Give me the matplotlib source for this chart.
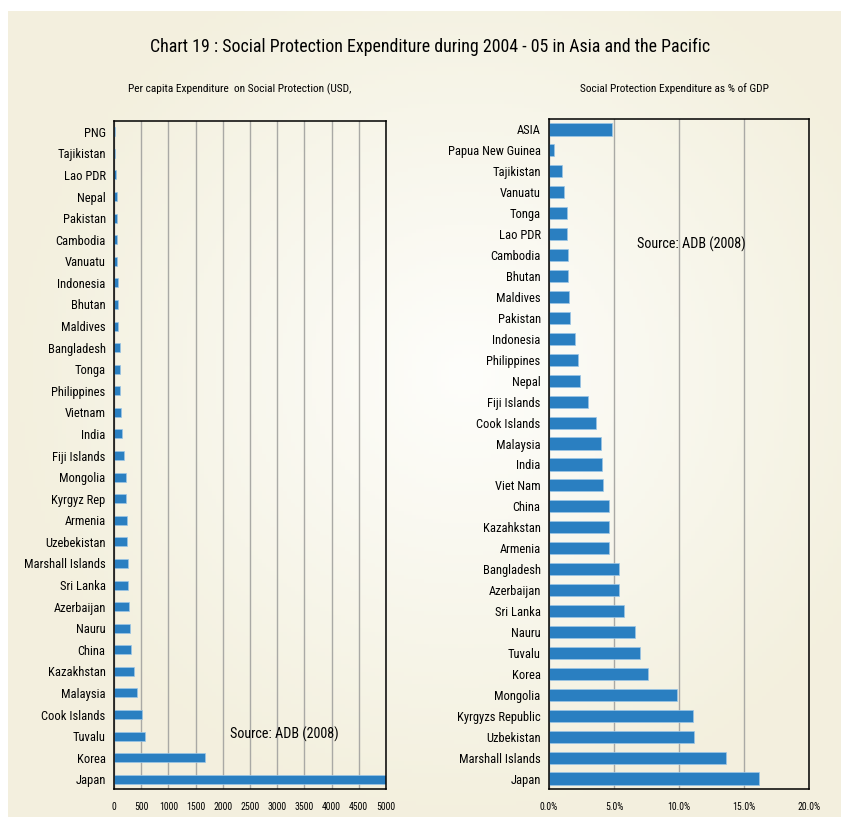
import numpy as np
import matplotlib
matplotlib.use("Agg")
import matplotlib.pyplot as plt

# per capita expenditure (USD), top to bottom
PC_COUNTRIES = ["PNG", "Tajikistan", "Lao PDR", "Nepal", "Pakistan", "Cambodia",
                "Vanuatu", "Indonesia", "Bhutan", "Maldives", "Bangladesh", "Tonga",
                "Philippines", "Vietnam", "India", "Fiji Islands", "Mongolia",
                "Kyrgyz Rep", "Armenia", "Uzebekistan", "Marshall Islands",
                "Sri Lanka", "Azerbaijan", "Nauru", "China", "Kazakhstan",
                "Malaysia", "Cook Islands", "Tuvalu", "Korea", "Japan"]
PC_VALUES = [10, 15, 35, 50, 50, 50, 50, 80, 80, 80, 105, 105, 117, 135, 147, 190,
             215, 215, 233, 233, 258, 258, 270, 300, 313, 369, 424, 510, 577,
             1665, 5000]

# share of GDP (%), top to bottom
GDP_COUNTRIES = ["ASIA", "Papua New Guinea", "Tajikistan", "Vanuatu", "Tonga",
                 "Lao PDR", "Cambodia", "Bhutan", "Maldives", "Pakistan",
                 "Indonesia", "Philippines", "Nepal", "Fiji Islands", "Cook Islands",
                 "Malaysia", "India", "Viet Nam", "China", "Kazahkstan", "Armenia",
                 "Bangladesh", "Azerbaijan", "Sri Lanka", "Nauru", "Tuvalu", "Korea",
                 "Mongolia", "Kyrgyzs Republic", "Uzbekistan", "Marshall Islands",
                 "Japan"]
GDP_VALUES = [4.84, 0.36, 1.02, 1.15, 1.36, 1.36, 1.43, 1.43, 1.56, 1.64, 1.97,
              2.23, 2.38, 2.97, 3.64, 3.97, 4.05, 4.17, 4.64, 4.64, 4.58, 5.38,
              5.38, 5.76, 6.58, 6.97, 7.58, 9.86, 11.11, 11.19, 13.6, 16.13]

PC_TICKS = list(range(0, 5001, 500))
GDP_TICKS = [0, 5, 10, 15, 20]

BAR = "#2a7fc1"
plt.rcParams["font.family"] = ["Roboto Condensed", "DejaVu Sans"]

fig = plt.figure(figsize=(8.41, 8.17), dpi=100)

# cream background with a lighter centre
bg = fig.add_axes([8 / 841, 0, 833 / 841, 1 - 11 / 817])
yy, xx = np.mgrid[0:1:200j, 0:1:200j]
d = np.sqrt(((xx - 0.55) / 0.9) ** 2 + ((yy - 0.45) / 0.9) ** 2)
t = np.clip(d / 0.6, 0, 1)[..., None]
light = np.array([0.995, 0.995, 0.985])
cream = np.array([0.953, 0.941, 0.871])
bg.imshow(light * (1 - t) + cream * t, aspect="auto", extent=[0, 1, 0, 1])
bg.axis("off")

fig.text(430 / 841, 1 - 47 / 817, "Chart 19 : Social Protection Expenditure during 2004 - 05 in Asia and the Pacific",
         ha="center", va="center", fontsize=12.9)
fig.text(128 / 841, 1 - 89 / 817, "Per capita Expenditure  on Social Protection (USD,",
         ha="left", va="center", fontsize=8.2)
fig.text(580 / 841, 1 - 89 / 817, "Social Protection Expenditure as % of GDP",
         ha="left", va="center", fontsize=8.2)


def style(ax):
    ax.set_facecolor("none")
    ax.set_axisbelow(True)
    ax.grid(axis="x", color="#a9a9a5", linewidth=1)
    for s in ax.spines.values():
        s.set_color("black")
        s.set_linewidth(1.1)
    ax.tick_params(axis="y", length=0, labelsize=9, pad=6)
    ax.tick_params(axis="x", length=0, labelsize=7, pad=9)


ax1 = fig.add_axes([114 / 841, 1 - 789 / 817, 272 / 841, 668 / 817])
y1 = np.arange(len(PC_COUNTRIES))
ax1.barh(y1, PC_VALUES, height=0.42, color=BAR, edgecolor="#9cc6e6", linewidth=0.5)
ax1.set_yticks(y1, PC_COUNTRIES)
ax1.set_xticks(PC_TICKS, [str(v) for v in PC_TICKS])
ax1.set_xlim(0, 5000)
ax1.set_ylim(len(PC_COUNTRIES) - 0.55, -0.5)
style(ax1)
ax1.text(2130, 27.9, "Source: ADB (2008)", ha="left", va="center", fontsize=10.2)

ax2 = fig.add_axes([549 / 841, 1 - 789 / 817, 260 / 841, 670 / 817])
y2 = np.arange(len(GDP_COUNTRIES))
ax2.barh(y2, GDP_VALUES, height=0.58, color=BAR, edgecolor="#9cc6e6", linewidth=0.5)
ax2.set_yticks(y2, GDP_COUNTRIES)
ax2.set_xticks(GDP_TICKS, [f"{v:.1f}%" for v in GDP_TICKS])
ax2.set_xlim(0, 20)
ax2.set_ylim(len(GDP_COUNTRIES) - 0.5, -0.5)
style(ax2)
ax2.text(6.75, 5.5, "Source: ADB (2008)", ha="left", va="center", fontsize=10.2)

fig.savefig("out.png", dpi=100)
